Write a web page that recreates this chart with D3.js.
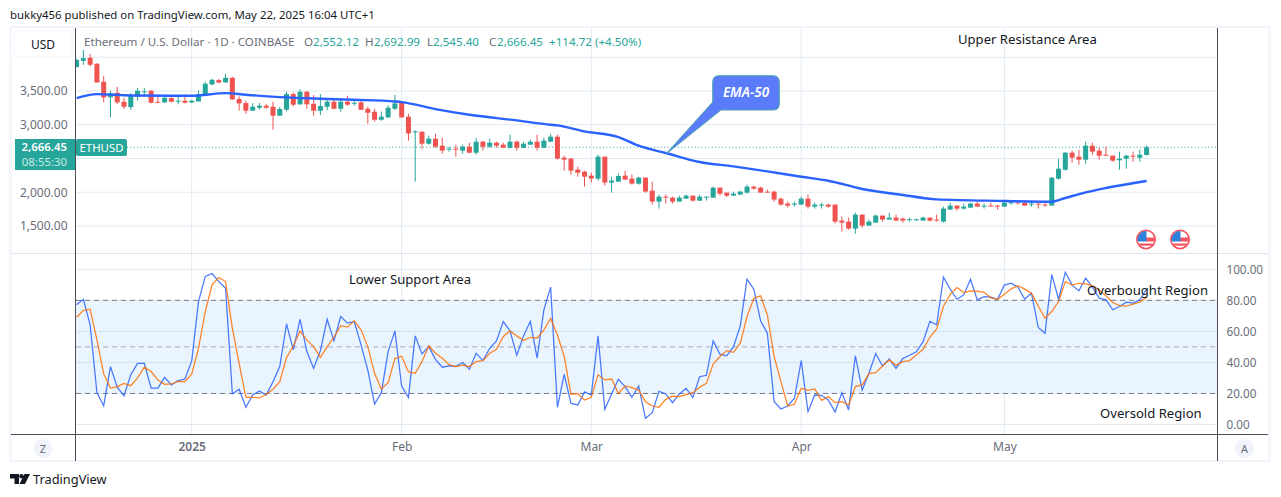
<!DOCTYPE html>
<html>
<head>
<meta charset="utf-8">
<script src="https://cdn.jsdelivr.net/npm/d3@7"></script>
<style>
  html, body { margin: 0; padding: 0; background: #fff; overflow: hidden; }
  svg { display: block; }
  text { font-family: "Noto Sans", sans-serif; }
</style>
</head>
<body>
<script>
// values, one entry per day starting at firstDay
const firstDay = "2024-12-15";
const opens = [3854,3947,3992,3903,3637,3405,3474,3341,3262,3420,3484,3504,3341,3331,3395,3346,3356,3331,3346,3440,3597,3661,3627,3696,3381,3321,3208,3252,3282,3267,3134,3223,3454,3302,3489,3311,3208,3267,3341,3237,3341,3316,3331,3237,3193,3074,3109,3237,3326,3119,2892,2897,2719,2793,2690,2636,2646,2616,2675,2586,2749,2675,2734,2705,2660,2749,2660,2705,2749,2660,2749,2823,2512,2498,2335,2305,2246,2202,2527,2143,2157,2246,2202,2128,2217,2024,1861,1935,1920,1861,1905,1950,1876,1925,1920,2068,1994,1950,1965,1994,2083,2068,2009,2009,1905,1832,1817,1817,1905,1787,1802,1817,1817,1580,1565,1462,1669,1506,1550,1654,1595,1624,1610,1590,1585,1580,1624,1595,1565,1743,1802,1758,1772,1832,1787,1802,1802,1787,1841,1851,1846,1817,1832,1817,1802,2201,2334,2586,2527,2482,2689,2616,2556,2542,2473,2497,2542,2512,2552.12];
const highs = [3972,4110,4051,3913,3726,3504,3563,3400,3469,3548,3543,3514,3440,3420,3410,3410,3454,3371,3504,3637,3681,3676,3755,3711,3420,3356,3321,3321,3311,3341,3262,3489,3479,3528,3499,3440,3454,3371,3371,3371,3430,3360,3380,3267,3237,3193,3291,3444,3341,3163,2917,2902,2838,2867,2808,2675,2705,2705,2734,2808,2764,2793,2749,2734,2853,2764,2749,2779,2853,2808,2867,2853,2542,2507,2379,2320,2290,2557,2527,2231,2276,2320,2261,2231,2217,2157,1965,1965,1935,1950,1965,1950,1965,1935,2083,2068,1994,2009,2024,2113,2098,2083,2039,2024,1920,1861,1861,1935,1965,1846,1846,1832,1817,1639,1624,1698,1669,1595,1669,1654,1698,1669,1624,1624,1610,1639,1624,1669,1787,1846,1802,1832,1846,1861,1832,1846,1812,1876,1876,1861,1876,1861,1832,1861,2226,2497,2596,2616,2630,2749,2734,2660,2675,2542,2601,2556,2601,2630,2692.99];
const lows = [3854,3888,3864,3627,3331,3109,3307,3233,3223,3361,3445,3316,3316,3321,3331,3302,3316,3321,3341,3430,3583,3612,3622,3366,3208,3164,3208,3223,3237,2927,3134,3198,3272,3297,3237,3134,3144,3213,3232,3193,3282,3281,3222,3015,3045,3060,3104,3222,3104,2764,2157,2645,2705,2660,2572,2601,2527,2572,2576,2557,2616,2660,2660,2655,2645,2616,2655,2700,2616,2655,2744,2483,2320,2261,2231,2083,2143,2172,2098,1995,2152,2182,2113,2113,1995,1817,1758,1832,1832,1861,1900,1861,1871,1876,1915,1950,1930,1950,1965,1979,2039,1994,1994,1861,1802,1772,1787,1817,1758,1758,1758,1772,1536,1417,1447,1388,1477,1506,1550,1565,1595,1580,1550,1565,1575,1580,1565,1565,1551,1743,1728,1743,1772,1787,1758,1787,1743,1787,1817,1817,1802,1787,1758,1787,1802,2187,2320,2438,2408,2423,2556,2482,2542,2453,2334,2349,2453,2453,2545.4];
const closes = [3962,3987,3888,3627,3405,3469,3331,3267,3435,3504,3494,3326,3326,3400,3341,3356,3326,3356,3454,3607,3666,3627,3696,3376,3316,3208,3267,3282,3252,3134,3233,3454,3297,3489,3302,3208,3277,3341,3237,3341,3297,3326,3222,3178,3074,3119,3252,3316,3109,2872,2902,2719,2793,2675,2616,2646,2636,2675,2586,2749,2675,2734,2690,2660,2749,2660,2719,2749,2660,2764,2823,2498,2483,2320,2290,2231,2202,2527,2143,2172,2241,2187,2128,2217,2010,1861,1935,1920,1861,1920,1950,1876,1935,1935,2068,1979,1950,1979,2009,2083,2053,1994,1994,1891,1817,1802,1832,1905,1787,1817,1817,1787,1565,1550,1462,1669,1506,1565,1654,1595,1624,1580,1580,1600,1600,1624,1580,1580,1758,1802,1758,1787,1832,1787,1802,1787,1792,1846,1851,1837,1802,1832,1817,1802,2216,2349,2586,2512,2482,2689,2601,2542,2542,2468,2497,2542,2527,2556,2666.45];

// EMA-50, read at the days listed in emaDays (index from firstDay)
const emaDays = [0,3,8,17,22,25,30,35,41,47,48,53,58,65,70,71,75,80,83,87,92,97,102,107,111,116,122,127,137,144,146,149,152,158];
const emaValues = [3395,3454,3434,3429,3469,3444,3410,3389,3370,3345,3336,3232,3148,3064,3000,2990,2901,2818,2689,2581,2448,2383,2309,2230,2171,2048,1960,1894,1871,1860,1915,1998,2063,2167];

const stochK = [77.1,80.7,64.2,20.5,12.1,37.3,24,18.4,32.1,39.4,39.4,23.5,23.5,30.4,25.5,28.3,29.3,41,79.2,95.4,97.3,92.1,87.8,19.7,22.7,11.1,19,21.6,19,27.6,37.3,64.8,48.1,67.8,47,36.2,47.6,67.8,53.9,69.6,65.3,66.3,51.3,35.1,13.2,20.5,47,60.3,24.8,17.3,57.1,45.5,50.2,42,36.9,37.7,37.5,39.9,35.6,45.9,41.2,49.1,53.9,66.3,60.3,44.6,57.1,66.5,42.7,73.9,88.5,11.1,32.3,13.6,12.6,21,19,57.1,9.8,19.7,29.1,24.4,17.5,24.8,4,7.6,21.4,19.7,14.1,19.7,23.3,17.5,30.8,31.7,53.9,45.3,44.2,50.2,63.5,93.6,87.2,66.8,58.8,14.7,10,11.9,16.9,41.2,8.3,19,18.8,15.8,8.1,20.5,9.4,44.2,22.2,33,45.7,37.7,42.2,36.2,42.5,44.6,46.8,53.4,66.5,64.2,94.9,87.2,80.7,83.5,93.6,80.3,82.4,82,80.7,89.8,91,88.5,80.9,84.6,62.5,58.8,96.6,80.7,98.1,89.8,86.1,94.3,88.5,81.4,80.3,73.9,76,78.8,78.2,80.3,87.2];
const stochD = [69.1,73.4,74.3,54.5,32.6,23.5,24.4,26.5,25,30,36.9,34.1,28.7,25.9,26.1,27.8,27.6,32.6,49.1,72.8,90,94.7,92.1,62,39.4,17.5,17.5,17.1,19.5,22.7,27.6,43.1,50.6,60.1,54.5,50.2,43.3,50.2,56.2,63.7,62.7,66.8,61,50.2,33,22.7,27,42.5,44,33.9,33,40.5,50.6,45.9,42.7,38.6,37.3,38.2,37.3,40.5,41.2,45.9,48.5,56.7,60.3,57.1,54.1,56.2,55.6,61,68.3,57.7,43.8,19.5,19.9,15.8,17.5,32.1,28.7,29.3,20.1,24.8,23.8,22.2,14.7,11.9,11.1,16.2,18.2,18,19.2,20.5,24,26.5,39,43.8,47.6,46.5,52.4,69.6,81.4,82.9,70.6,43.8,27.6,11.9,13,23.3,22,22.9,15.6,18,14.1,14.7,12.6,24.4,25.5,32.8,33.4,37.7,41.6,38.2,40.5,41.2,44.8,48.5,56.2,61.6,76,84,88.3,85,86.1,85.9,85.2,81.6,80.7,84,87.4,89.5,87.2,84.6,76.4,68.5,72.8,79.2,92.1,89.8,91,90.6,89.5,86.8,82.9,78.6,76.6,76.2,77.5,79,81.8];

const priceTicks = [4000, 3500, 3000, 2500, 2000, 1500];
const priceLabels = [3500, 3000, 2000, 1500];
const stochTicks = [100, 80, 60, 40, 20, 0];
const stochLevels = [80, 50, 20];
const monthTicks = ["2025-01-01", "2025-02-01", "2025-03-01", "2025-04-01", "2025-05-01"];
const monthLabels = ["2025", "Feb", "Mar", "Apr", "May"];
const lastPrice = 2666.45;

const up = "#26a69a";
const down = "#ef5350";
const grid = "#e1eaf2";
const axisDark = "#4d4d57";
const labelGrey = "#6a6d78";

const svg = d3
  .select("body")
  .append("svg")
  .attr("width", 1281)
  .attr("height", 497);

// scales
const dayMs = 86400000;
const day0 = Date.parse(firstDay);
const dateOf = (i) => new Date(day0 + i * dayMs);
const x = d3
  .scaleUtc()
  .domain([dateOf(0), dateOf(158)])
  .range([76.6, 1146.6]);
const yPrice = d3.scaleLinear().domain([1500, 3500]).range([226, 91]);
const yStoch = d3.scaleLinear().domain([0, 100]).range([424.5, 269.3]);

const defs = svg.append("defs");
defs
  .append("clipPath")
  .attr("id", "plot")
  .append("rect")
  .attr("x", 76)
  .attr("y", 28)
  .attr("width", 1141)
  .attr("height", 225);

defs
  .append("clipPath")
  .attr("id", "flagClip")
  .append("circle")
  .attr("r", 8.5);

const dots = defs
  .append("pattern")
  .attr("id", "bandDots")
  .attr("width", 3)
  .attr("height", 3)
  .attr("patternUnits", "userSpaceOnUse");
dots.append("rect").attr("width", 3).attr("height", 3).attr("fill", "#ebf5fe");
dots.append("circle").attr("cx", 1).attr("cy", 1).attr("r", 0.5).attr("fill", "#deeefa");

// frame
svg
  .append("rect")
  .attr("x", 10.5)
  .attr("y", 27)
  .attr("width", 1259)
  .attr("height", 434)
  .attr("fill", "#fff")
  .attr("stroke", "#f0f3fa")
  .attr("stroke-width", 2);

// grid lines
svg
  .append("g")
  .selectAll("line")
  .data(monthTicks)
  .enter()
  .append("line")
  .attr("x1", (d) => x(new Date(d)))
  .attr("x2", (d) => x(new Date(d)))
  .attr("y1", 28)
  .attr("y2", 434)
  .attr("stroke", grid)
  .attr("stroke-width", 1);

svg
  .append("g")
  .selectAll("line")
  .data(priceTicks)
  .enter()
  .append("line")
  .attr("x1", 76)
  .attr("x2", 1217)
  .attr("y1", (d) => yPrice(d))
  .attr("y2", (d) => yPrice(d))
  .attr("stroke", grid);

// stoch band and levels
svg
  .append("rect")
  .attr("x", 76)
  .attr("y", yStoch(80))
  .attr("width", 1141)
  .attr("height", yStoch(20) - yStoch(80))
  .attr("fill", "url(#bandDots)");

svg
  .append("g")
  .selectAll("line")
  .data(stochTicks)
  .enter()
  .append("line")
  .attr("x1", 76)
  .attr("x2", 1217)
  .attr("y1", (d) => yStoch(d))
  .attr("y2", (d) => yStoch(d))
  .attr("stroke", (d) => (d === 60 || d === 40 ? "#cfe3f2" : grid));

svg
  .append("g")
  .selectAll("line")
  .data(stochLevels)
  .enter()
  .append("line")
  .attr("x1", 76)
  .attr("x2", 1217)
  .attr("y1", (d) => yStoch(d))
  .attr("y2", (d) => yStoch(d))
  .attr("stroke", (d) => (d === 50 ? "#a9adb5" : "#787b86"))
  .attr("stroke-dasharray", "5 4");

// last price line
svg
  .append("line")
  .attr("x1", 127)
  .attr("x2", 1217)
  .attr("y1", yPrice(lastPrice))
  .attr("y2", yPrice(lastPrice))
  .attr("stroke", up)
  .attr("stroke-dasharray", "1 2.4");

// candles
const candles = svg.append("g").attr("clip-path", "url(#plot)");
const idx = d3.range(closes.length);
candles
  .selectAll("line.wick")
  .data(idx)
  .enter()
  .append("line")
  .attr("class", "wick")
  .attr("x1", (i) => x(dateOf(i)))
  .attr("x2", (i) => x(dateOf(i)))
  .attr("y1", (i) => yPrice(highs[i]))
  .attr("y2", (i) => yPrice(lows[i]))
  .attr("stroke", (i) => (closes[i] >= opens[i] ? up : down))
  .attr("stroke-width", 1);

candles
  .selectAll("rect.body")
  .data(idx)
  .enter()
  .append("rect")
  .attr("class", "body")
  .attr("x", (i) => x(dateOf(i)) - 2.5)
  .attr("width", 5)
  .attr("y", (i) => yPrice(Math.max(opens[i], closes[i])))
  .attr("height", (i) =>
    Math.max(1, Math.abs(yPrice(opens[i]) - yPrice(closes[i])))
  )
  .attr("fill", (i) => (closes[i] >= opens[i] ? up : down));

// EMA-50
const emaLine = d3
  .line()
  .x((d, i) => x(dateOf(emaDays[i])))
  .y((d) => yPrice(d))
  .curve(d3.curveMonotoneX);
svg
  .append("path")
  .attr("d", emaLine(emaValues))
  .attr("fill", "none")
  .attr("stroke", "#2962ff")
  .attr("stroke-width", 2.4);

// stoch lines
const stochLine = d3
  .line()
  .x((d, i) => x(dateOf(i)))
  .y((d) => yStoch(d));
svg
  .append("path")
  .attr("d", stochLine(stochK))
  .attr("fill", "none")
  .attr("stroke", "#2962ff")
  .attr("stroke-opacity", 0.85)
  .attr("stroke-width", 1.25);
svg
  .append("path")
  .attr("d", stochLine(stochD))
  .attr("fill", "none")
  .attr("stroke", "#ff6d00")
  .attr("stroke-opacity", 0.85)
  .attr("stroke-width", 1.25);

// axes, labels only
const priceAxis = d3
  .axisLeft(yPrice)
  .tickValues(priceLabels)
  .tickSize(0)
  .tickPadding(8)
  .tickFormat(d3.format(",.2f"));
const stochAxis = d3
  .axisRight(yStoch)
  .tickValues(stochTicks)
  .tickSize(0)
  .tickPadding(9)
  .tickFormat(d3.format(".2f"));
const timeAxis = d3
  .axisBottom(x)
  .tickValues(monthTicks.map((d) => new Date(d)))
  .tickSize(0)
  .tickPadding(0)
  .tickFormat((d, i) => monthLabels[i]);

const pAxis = svg.append("g").attr("transform", "translate(75.5,0)").call(priceAxis);
const sAxis = svg.append("g").attr("transform", "translate(1217.5,0)").call(stochAxis);
const tAxis = svg.append("g").attr("transform", "translate(0,442)").call(timeAxis);
[pAxis, sAxis, tAxis].forEach((g) => {
  g.select(".domain").remove();
  g.selectAll("text")
    .attr("fill", labelGrey)
    .style("font-family", '"Noto Sans", sans-serif')
    .style("font-size", "12px");
});
sAxis.selectAll("text").style("font-size", "11.7px");
tAxis.selectAll("text").filter((d, i) => i === 0).style("font-weight", 600);

// pane borders
svg.append("line").attr("x1", 11).attr("x2", 1268).attr("y1", 253.5).attr("y2", 253.5).attr("stroke", "#e0e3eb");
svg.append("line").attr("x1", 11).attr("x2", 1268).attr("y1", 434.5).attr("y2", 434.5).attr("stroke", axisDark);
svg.append("line").attr("x1", 75.5).attr("x2", 75.5).attr("y1", 28).attr("y2", 461).attr("stroke", axisDark);
svg.append("line").attr("x1", 1217.5).attr("x2", 1217.5).attr("y1", 28).attr("y2", 461).attr("stroke", axisDark);

// header text
svg
  .append("text")
  .attr("x", 10)
  .attr("y", 19)
  .attr("fill", "#131722")
  .style("font-size", "11.4px")
  .text("bukky456 published on TradingView.com, May 22, 2025 16:04 UTC+1");

svg
  .append("rect")
  .attr("x", 14)
  .attr("y", 31)
  .attr("width", 58)
  .attr("height", 26)
  .attr("rx", 4)
  .attr("fill", "#fff")
  .attr("stroke", "#f0f3fa");
svg
  .append("text")
  .attr("x", 43)
  .attr("y", 48.5)
  .attr("text-anchor", "middle")
  .attr("fill", "#131722")
  .style("font-size", "12px")
  .text("USD");

const legendParts = [
  ["Ethereum / U.S. Dollar · 1D · COINBASE", labelGrey, 84],
  ["O", labelGrey, 304],
  ["2,552.12", up, 313],
  ["H", labelGrey, 365],
  ["2,692.99", up, 374],
  ["L", labelGrey, 427],
  ["2,545.40", up, 433],
  ["C", labelGrey, 489],
  ["2,666.45", up, 497],
  ["+114.72 (+4.50%)", up, 549],
];
svg
  .append("g")
  .selectAll("text")
  .data(legendParts)
  .enter()
  .append("text")
  .attr("x", (d) => d[2])
  .attr("y", 46)
  .attr("fill", (d) => d[1])
  .style("font-size", "11.6px")
  .text((d) => d[0]);

// last price tag
svg.append("rect").attr("x", 15).attr("y", 139).attr("width", 60).attr("height", 31).attr("fill", up);
svg
  .append("rect")
  .attr("x", 76)
  .attr("y", 139)
  .attr("width", 51)
  .attr("height", 17)
  .attr("rx", 2)
  .attr("fill", up);
svg
  .append("text")
  .attr("x", 67)
  .attr("y", 150.5)
  .attr("text-anchor", "end")
  .attr("fill", "#fff")
  .style("font-size", "11.4px")
  .style("font-weight", 600)
  .text(d3.format(",.2f")(lastPrice));
svg
  .append("text")
  .attr("x", 67)
  .attr("y", 166.2)
  .attr("text-anchor", "end")
  .attr("fill", "#c8ebe7")
  .style("font-size", "11.4px")
  .text("08:55:30");
svg
  .append("text")
  .attr("x", 101.5)
  .attr("y", 152)
  .attr("text-anchor", "middle")
  .attr("fill", "#fff")
  .style("font-size", "11.4px")
  .text("ETHUSD");

// callout
svg
  .append("path")
  .attr("d", "M719,75.7 H773 Q779.3,75.7 779.3,82 V104 Q779.3,110 773,110 H721 L665.7,154.3 L712.7,102 V82 Q712.7,75.7 719,75.7 Z")
  .attr("fill", "#5b7cfa")
  .attr("stroke", "#4aa8a8")
  .attr("stroke-width", 1);
svg
  .append("text")
  .attr("x", 746)
  .attr("y", 97)
  .attr("text-anchor", "middle")
  .attr("fill", "#fff")
  .style("font-size", "13.5px")
  .style("font-style", "italic")
  .style("font-weight", 600)
  .text("EMA-50");

// annotations
const notes = [
  ["Upper Resistance Area", 958, 44],
  ["Lower Support Area", 349, 284],
  ["Overbought Region", 1087, 295],
  ["Oversold Region", 1100, 418],
];
svg
  .append("g")
  .selectAll("text")
  .data(notes)
  .enter()
  .append("text")
  .attr("x", (d) => d[1])
  .attr("y", (d) => d[2])
  .attr("fill", "#131722")
  .style("font-size", "13.1px")
  .text((d) => d[0]);

// US event flags
const flags = svg
  .append("g")
  .selectAll("g")
  .data([1146, 1180])
  .enter()
  .append("g")
  .attr("transform", (d) => `translate(${d},239.5)`);
flags.append("circle").attr("r", 10).attr("fill", "#f7525f");
const flagInner = flags.append("g").attr("clip-path", "url(#flagClip)");
flagInner.append("circle").attr("r", 8.5).attr("fill", "#fff");
flagInner.append("rect").attr("x", 0).attr("y", -2).attr("width", 9).attr("height", 4).attr("fill", "#f7525f");
flagInner.append("rect").attr("x", -7).attr("y", 4).attr("width", 14).attr("height", 2.2).attr("fill", "#f7525f");
flagInner.append("rect").attr("x", -9).attr("y", -9).attr("width", 9.5).attr("height", 11).attr("fill", "#2f80d8");

// Z and A buttons
const buttons = [["Z", 43], ["A", 1244.5]];
svg
  .append("g")
  .selectAll("circle")
  .data(buttons)
  .enter()
  .append("circle")
  .attr("cx", (d) => d[1])
  .attr("cy", 448.5)
  .attr("r", 9.5)
  .attr("fill", "#f0f3fa");
svg
  .append("g")
  .selectAll("text")
  .data(buttons)
  .enter()
  .append("text")
  .attr("x", (d) => d[1])
  .attr("y", 452.5)
  .attr("text-anchor", "middle")
  .attr("fill", labelGrey)
  .style("font-size", "11px")
  .text((d) => d[0]);

// TradingView logo
const logo = svg.append("g").attr("transform", "translate(10,474)").attr("fill", "#131722");
logo.append("path").attr("d", "M0,0 H9 V10 H4.5 V4.5 H0 Z");
logo.append("circle").attr("cx", 11.5).attr("cy", 2.2).attr("r", 2.2);
logo.append("path").attr("d", "M14.5,0 H20 L15,10 H9.5 Z");
svg
  .append("text")
  .attr("x", 33)
  .attr("y", 484)
  .attr("fill", "#131722")
  .style("font-size", "12.8px")
  .text("TradingView");
</script>
</body>
</html>
